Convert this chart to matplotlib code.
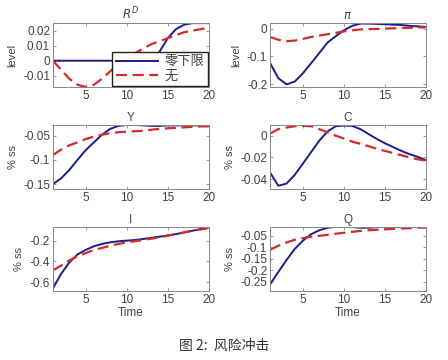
import matplotlib.pyplot as plt
import numpy as np

plt.rcParams['font.family'] = ['Liberation Sans', 'Noto Sans CJK SC', 'DejaVu Sans']
plt.rcParams['font.size'] = 8

t = np.arange(1, 21)

# 零下限 (zero lower bound) - solid blue
rd_zlb = [0, 0, 0, 0, 0, 0, 0, 0, 0, 0, 0, 0, 0, 0.006, 0.015, 0.021, 0.024, 0.025, 0.025, 0.025]
pi_zlb = [-0.124, -0.178, -0.2, -0.19, -0.16, -0.124, -0.087, -0.05, -0.027, -0.006,
          0.01, 0.018, 0.018, 0.017, 0.016, 0.014, 0.013, 0.01, 0.008, 0.006]
y_zlb = [-0.15, -0.138, -0.121, -0.1, -0.08, -0.064, -0.048, -0.036, -0.03, -0.028,
         -0.028, -0.029, -0.03, -0.03, -0.029, -0.029, -0.029, -0.029, -0.029, -0.029]
c_zlb = [-0.034, -0.046, -0.044, -0.036, -0.0256, -0.015, -0.0045, 0.004, 0.0087, 0.0093,
         0.009, 0.006, 0.0015, -0.003, -0.007, -0.0105, -0.014, -0.017, -0.0195, -0.0226]
i_zlb = [-0.66, -0.52, -0.41, -0.333, -0.289, -0.254, -0.232, -0.216, -0.206, -0.2,
         -0.194, -0.184, -0.173, -0.162, -0.15, -0.137, -0.121, -0.105, -0.089, -0.073]
q_zlb = [-0.26, -0.207, -0.155, -0.107, -0.071, -0.043, -0.026, -0.015, -0.011, -0.011,
         -0.012, -0.015, -0.015, -0.013, -0.012, -0.012, -0.012, -0.012, -0.012, -0.012]

# 无 (no bound) - dashed red
rd_none = [0, -0.006, -0.012, -0.016, -0.0175, -0.016, -0.012, -0.007, -0.002, 0.002,
           0.005, 0.008, 0.011, 0.013, 0.015, 0.017, 0.019, 0.020, 0.021, 0.022]
pi_none = [-0.03, -0.04, -0.045, -0.043, -0.037, -0.03, -0.025, -0.02, -0.015, -0.01,
           -0.006, -0.003, -0.002, -0.001, 0.0, 0.001, 0.002, 0.003, 0.004, 0.005]
y_none = [-0.09, -0.079, -0.07, -0.064, -0.057, -0.052, -0.048, -0.045, -0.043, -0.042,
          -0.041, -0.04, -0.038, -0.036, -0.035, -0.034, -0.033, -0.032, -0.031, -0.031]
c_none = [0.002, 0.006, 0.0075, 0.0087, 0.009, 0.0087, 0.006, 0.003, 0.0, -0.0027,
          -0.0054, -0.0075, -0.0096, -0.012, -0.014, -0.016, -0.018, -0.02, -0.0217, -0.023]
i_none = [-0.486, -0.44, -0.39, -0.35, -0.32, -0.29, -0.27, -0.248, -0.232, -0.216,
          -0.205, -0.194, -0.181, -0.168, -0.152, -0.137, -0.121, -0.105, -0.092, -0.08]
q_none = [-0.111, -0.093, -0.079, -0.067, -0.06, -0.054, -0.05, -0.046, -0.041, -0.037,
          -0.033, -0.029, -0.026, -0.024, -0.022, -0.02, -0.018, -0.017, -0.015, -0.014]

titles = ['$R^D$', r'$\pi$', 'Y', 'C', 'I', 'Q']
ylabels = ['level', 'level', '% ss', '% ss', '% ss', '% ss']
zlb = [rd_zlb, pi_zlb, y_zlb, c_zlb, i_zlb, q_zlb]
none = [rd_none, pi_none, y_none, c_none, i_none, q_none]
ylims = [(-0.0176, 0.0251), (-0.21, 0.02), (-0.16, -0.028), (-0.049, 0.0099),
         (-0.683, -0.067), (-0.289, -0.011)]
yticks = [[-0.01, 0, 0.01, 0.02], [-0.2, -0.1, 0], [-0.15, -0.1, -0.05], [-0.04, -0.02, 0],
          [-0.6, -0.4, -0.2], [-0.25, -0.2, -0.15, -0.1, -0.05]]
yticklabels = [['-0.01', '0', '0.01', '0.02'], ['-0.2', '-0.1', '0'], ['-0.15', '-0.1', '-0.05'],
               ['-0.04', '-0.02', '0'], ['-0.6', '-0.4', '-0.2'],
               ['-0.25', '-0.2', '-0.15', '-0.1', '-0.05']]

blue = '#1c1c8c'
red = '#d42a2a'
txt = '#404040'

fig = plt.figure(figsize=(4.48, 3.6), dpi=100)
lefts = [0.118, 0.603]
bottoms = [0.758, 0.475, 0.192]
for k in range(6):
    ax = fig.add_axes([lefts[k % 2], bottoms[k // 2], 0.348, 0.178])
    l1, = ax.plot(t, zlb[k], color=blue, lw=1.4)
    l2, = ax.plot(t, none[k], color=red, lw=1.6, ls='--', dashes=(5, 2.5))
    ax.set_xlim(1, 20)
    ax.set_ylim(*ylims[k])
    ax.set_xticks([5, 10, 15, 20])
    ax.set_yticks(yticks[k])
    ax.set_yticklabels(yticklabels[k])
    ax.tick_params(direction='in', length=2, width=0.6, colors='#888888',
                   labelcolor=txt, labelsize=8.5, top=True, right=True, pad=2)
    for s in ax.spines.values():
        s.set_color('#888888')
        s.set_linewidth(0.7)
    ax.set_title(titles[k], fontsize=8.5, color=txt, pad=3)
    ax.set_ylabel(ylabels[k], fontsize=8, color=txt, labelpad=4)
    if k >= 4:
        ax.set_xlabel('Time', fontsize=8.5, color=txt, labelpad=1)
    if k == 0:
        leg = ax.legend([l1, l2], ['零下限', '无'], loc='lower right', fontsize=9.5,
                        handlelength=3.2, borderaxespad=0.05, labelspacing=0.15,
                        borderpad=0.3, handletextpad=0.5,
                        fancybox=False, framealpha=1, edgecolor='#222222')
        for tx in leg.get_texts():
            tx.set_color(txt)

fig.text(0.5, 0.038, '图 2:  风险冲击', ha='center', va='center', fontsize=10,
         color='#333333', family=['Noto Sans CJK SC', 'DejaVu Sans'])

fig.savefig('out.png', dpi=100)
